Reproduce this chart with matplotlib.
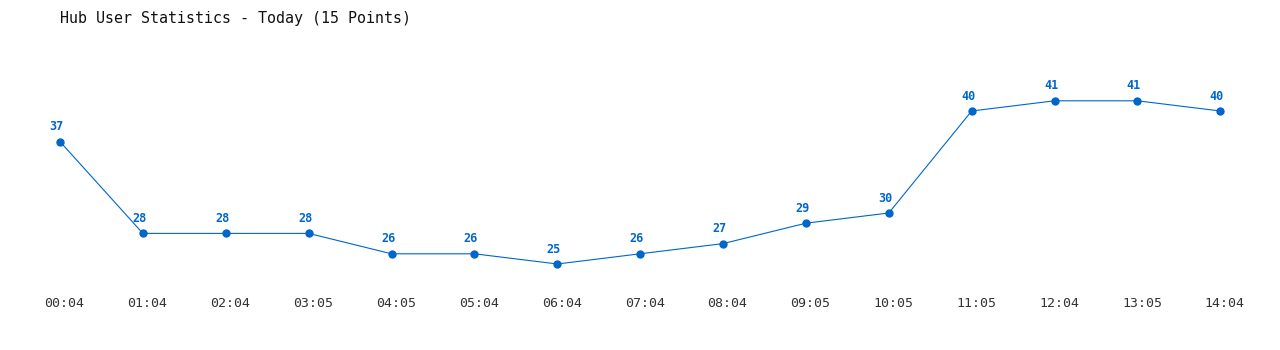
import matplotlib
matplotlib.use("Agg")
import matplotlib.pyplot as plt
from matplotlib.transforms import ScaledTranslation

times = ["00:04", "01:04", "02:04", "03:05", "04:05", "05:04", "06:04", "07:04",
         "08:04", "09:05", "10:05", "11:05", "12:04", "13:05", "14:04"]
users = [37, 28, 28, 28, 26, 26, 25, 26, 27, 29, 30, 40, 41, 41, 40]

blue = "#0066cc"
plt.rcParams['font.family'] = ['DejaVu Sans Mono']

fig = plt.figure(figsize=(12.8, 3.5), dpi=100)
ax = fig.add_axes([0, 60/350, 1, 230/350])

x = list(range(len(users)))
ax.plot(x, users, color=blue, lw=0.8, marker='o', ms=5)
for xi, v in zip(x, users):
    ax.annotate(str(v), (xi, v), xytext=(-2.5, 6), textcoords='offset points',
                ha='center', va='bottom', color=blue, fontsize=8.5, fontweight='bold')

ax.set_xlim(-0.724, 14.72)
ax.set_ylim(22.45, 45)
ax.set_xticks(x, times)
ax.tick_params(axis='x', length=0, pad=5, labelsize=9.5, labelcolor='#333333')
shift = ScaledTranslation(4.5/100, 0, fig.dpi_scale_trans)
for lbl in ax.get_xticklabels():
    lbl.set_transform(lbl.get_transform() + shift)
ax.set_yticks([])
for s in ax.spines.values():
    s.set_visible(False)

fig.text(60/1280, 1 - 18/350, "Hub User Statistics - Today (15 Points)",
         ha='left', va='center', fontsize=10.8, color='#111111')

fig.savefig("out.png", dpi=100)
